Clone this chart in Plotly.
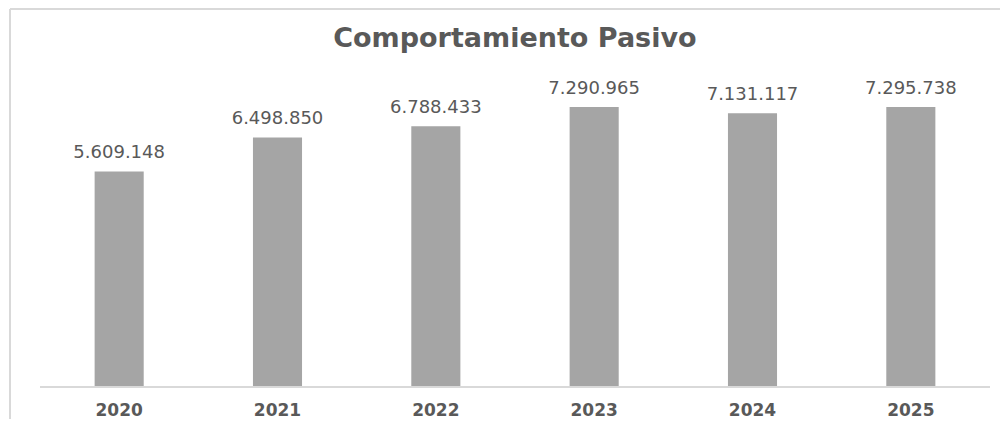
import plotly.graph_objects as go

anios = ["2020", "2021", "2022", "2023", "2024", "2025"]
pasivo = [5609148, 6498850, 6788433, 7290965, 7131117, 7295738]

gris_texto = "#595959"
gris_barra = "#A5A5A5"
gris_linea = "#D9D9D9"
fuente = "DejaVu Sans, sans-serif"

fig = go.Figure()
fig.add_trace(go.Bar(
    x=anios,
    y=pasivo,
    marker=dict(color=gris_barra, line=dict(width=0)),
    hoverinfo="x+y",
))
# etiquetas de valor (marcador invisible para separarlas de la barra)
fig.add_trace(go.Scatter(
    x=anios,
    y=pasivo,
    mode="markers+text",
    marker=dict(size=12, opacity=0),
    texttemplate="%{y:,}",
    textposition="top center",
    textfont=dict(color=gris_texto, size=18, family=fuente),
    cliponaxis=False,
    hoverinfo="skip",
))

# la pagina deja 8px de margen, la figura se achica para no desbordar
fig.update_layout(
    width=992,
    height=411,
    separators=",.",  # miles con punto
    paper_bgcolor="white",
    plot_bgcolor="white",
    margin=dict(l=32, r=10, t=72, b=33),
    bargap=0.69,
    showlegend=False,
    title=dict(
        text="<b>Comportamiento Pasivo</b>",
        x=0.511, xanchor="center",
        y=1 - 29.5 / 411, yanchor="middle",
        font=dict(color=gris_texto, size=27, family=fuente),
    ),
    xaxis=dict(
        automargin=False,
        showgrid=False,
        showline=True, linecolor=gris_linea, linewidth=2,
        ticks="",
        ticklabelstandoff=8,
        tickfont=dict(color=gris_texto, size=17, family=fuente, weight="bold"),
    ),
    yaxis=dict(
        automargin=False,
        range=[0, 8000000],
        showgrid=False, zeroline=False,
        showticklabels=False,
    ),
)

# borde del area del grafico (arriba e izquierda)
fig.add_shape(type="line", xref="paper", yref="paper",
              x0=(2 - 32) / 950, x1=(992 - 32) / 950, y0=(306 + 72 - 1) / 306, y1=(306 + 72 - 1) / 306,
              line=dict(color=gris_linea, width=2))
fig.add_shape(type="line", xref="paper", yref="paper",
              x0=(2 - 32) / 950, x1=(2 - 32) / 950, y0=(306 + 72 - 1) / 306, y1=-33 / 306,
              line=dict(color=gris_linea, width=2))

fig.write_html("out.html")
